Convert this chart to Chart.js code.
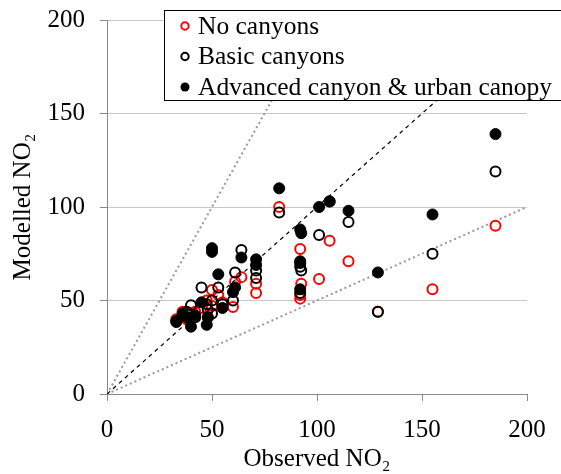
<!DOCTYPE html>
<html>
<head>
<meta charset="utf-8">
<script src="https://cdn.jsdelivr.net/npm/chart.js@4.4.1/dist/chart.umd.min.js"></script>
<style>
  html, body { margin: 0; padding: 0; background: #fff; }
  #wrap { width: 561px; height: 474px; }
</style>
</head>
<body>
<div id="wrap"><canvas id="no2Chart" width="561" height="474"></canvas></div>
<script>
// observed NO2 at each site, and modelled NO2 for the three model set-ups
const observed       = [185, 155, 129, 115, 101, 106, 92, 92.5, 92, 92, 82, 71, 71, 64, 61, 60, 53, 50, 50, 45, 47.5, 40, 36, 33, 38, 42, 55, 48];
const noCanyons      = [90, 56, 44, 71, 61.5, 82, 77.5, 59, 51, 53, 100, 59, 54, 62.5, 60, 46.5, 53, 55.6, 47, 46, 50, 43, 44, 40, 40, 44, 49, 41];
const basicCanyons   = [119, 75, 44, 92, 85, 103, 70, 66, 54, 68, 97, 66, 62, 77, 65, 50, 57, 50, 43, 57, 48, 47.5, 42, 39, 44, 41, 48, 45];
const advancedCanopy = [139, 96, 65, 98, 100, 103, 88, 86, 56, 71, 110, 72, 69, 73, 57, 54.5, 64, 78, 76, 49, 37, 36, 43, 38.5, 41, 42, 46, 41];

// reference lines: 1:1, factor of two above and below
const oneToOne  = [[0, 0], [200, 200]];
const twiceLine = [[0, 0], [100, 200]];
const halfLine  = [[0, 0], [200, 100]];

const axisMin = 0, axisMax = 200, axisStep = 50;

const serif = "'Liberation Serif', 'Times New Roman', serif";
Chart.defaults.font.family = serif;
Chart.defaults.font.size = 25;
Chart.defaults.color = '#000';

const toXY = (xs, ys) => xs.map((x, i) => ({ x: x, y: ys[i] }));
const toPts = arr => arr.map(p => ({ x: p[0], y: p[1] }));

// legend in a framed box at the top right, like the original
const boxLegend = {
  id: 'boxLegend',
  afterDatasetsDraw(chart) {
    const ctx = chart.ctx;
    const items = chart.data.datasets.filter(d => d.inLegend);
    ctx.save();
    ctx.fillStyle = '#fff';
    ctx.fillRect(164, 10, 400, 90);
    ctx.strokeStyle = '#000';
    ctx.lineWidth = 1;
    ctx.strokeRect(164.5, 10.5, 400, 90);
    ctx.font = '25.5px ' + serif;
    ctx.textBaseline = 'middle';
    items.forEach((d, i) => {
      const y = 26 + i * 30.5;
      ctx.beginPath();
      ctx.arc(185, y, d.filled ? 4.5 : 3.7, 0, Math.PI * 2);
      if (d.filled) {
        ctx.fillStyle = d.borderColor;
        ctx.fill();
      } else {
        ctx.lineWidth = 2;
        ctx.strokeStyle = d.borderColor;
        ctx.stroke();
      }
      ctx.fillStyle = '#000';
      ctx.fillText(d.label, 198, y + 1);
    });
    ctx.restore();
  }
};

new Chart(document.getElementById('no2Chart'), {
  type: 'scatter',
  data: {
    datasets: [
      {
        label: 'No canyons',
        data: toXY(observed, noCanyons),
        inLegend: true,
        pointRadius: 5,
        borderWidth: 2,
        borderColor: '#ff0000',
        backgroundColor: 'rgba(0,0,0,0)',
        order: 3
      },
      {
        label: 'Basic canyons',
        data: toXY(observed, basicCanyons),
        inLegend: true,
        pointRadius: 5,
        borderWidth: 2,
        borderColor: '#000',
        backgroundColor: 'rgba(0,0,0,0)',
        order: 2
      },
      {
        label: 'Advanced canyon & urban canopy',
        data: toXY(observed, advancedCanopy),
        inLegend: true,
        filled: true,
        pointRadius: 5.5,
        borderWidth: 1,
        borderColor: '#000',
        backgroundColor: '#000',
        order: 1
      },
      {
        label: '1:1',
        data: toPts(oneToOne),
        showLine: true,
        pointRadius: 0,
        borderColor: '#000',
        borderWidth: 1.2,
        borderDash: [4, 4],
        order: 5
      },
      {
        label: '2:1',
        data: toPts(twiceLine),
        showLine: true,
        pointRadius: 0,
        borderColor: '#999',
        borderWidth: 2,
        borderDash: [2, 3],
        order: 5
      },
      {
        label: '1:2',
        data: toPts(halfLine),
        showLine: true,
        pointRadius: 0,
        borderColor: '#999',
        borderWidth: 2,
        borderDash: [2, 3],
        order: 5
      }
    ]
  },
  options: {
    responsive: false,
    animation: false,
    layout: { padding: { top: 20, right: 34, left: 0, bottom: 0 } },
    plugins: {
      legend: { display: false },
      tooltip: { enabled: false }
    },
    scales: {
      x: {
        type: 'linear',
        min: axisMin,
        max: axisMax,
        ticks: { stepSize: axisStep, padding: 14, maxRotation: 0 },
        grid: { drawOnChartArea: false, tickLength: 7, tickColor: '#888' },
        border: { color: '#888' },
        title: { display: true, text: 'Observed NO₂', padding: { top: 0, bottom: 0 } },
        afterFit: s => { s.height = 80; s.paddingLeft = 0; s.paddingRight = 0; }
      },
      y: {
        type: 'linear',
        min: axisMin,
        max: axisMax,
        ticks: { stepSize: axisStep, padding: 15 },
        grid: { color: '#c8c8c8', tickLength: 7, tickColor: '#888' },
        border: { color: '#888' },
        title: { display: true, text: 'Modelled NO₂', padding: { top: 8, bottom: 0 } },
        afterFit: s => { s.width = 107; s.paddingTop = 0; s.paddingBottom = 0; }
      }
    }
  },
  plugins: [boxLegend]
});
</script>
</body>
</html>
